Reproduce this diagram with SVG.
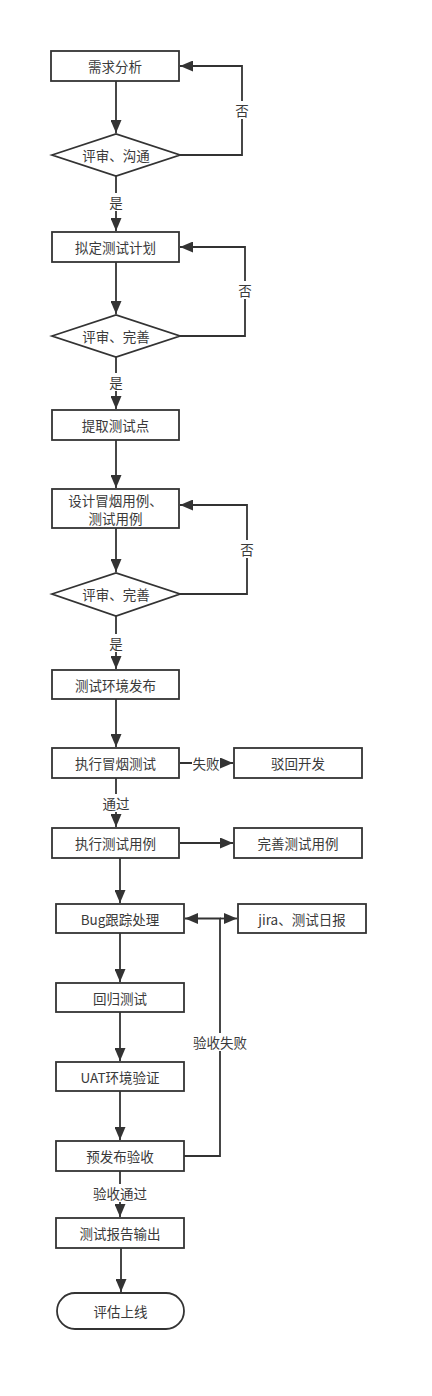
<svg xmlns="http://www.w3.org/2000/svg" width="432" height="1396" viewBox="0 0 432 1396">
<style>
.n{fill:#fff;stroke:#333;stroke-width:1.8}
.t{font-family:"Noto Sans CJK SC","Noto Sans",sans-serif;font-size:13.5px;fill:#3a3a3a;text-anchor:middle;dominant-baseline:central}
.e{fill:none;stroke:#333;stroke-width:1.8}
.lb{fill:#fff}
</style>
<defs>
<marker id="a" markerUnits="userSpaceOnUse" markerWidth="14" markerHeight="11" refX="13" refY="5.5" orient="auto">
<path d="M0,0 L13,5.5 L0,11 Z" fill="#333"/>
</marker>
</defs>
<rect width="432" height="1396" fill="#fff"/>
<g id="connectors">
<path class="e" d="M116,81 V133" marker-end="url(#a)"/>
<path class="e" d="M180,155 H242 V66 H180" marker-end="url(#a)"/>
<path class="e" d="M116,176 V231" marker-end="url(#a)"/>
<path class="e" d="M116,262 V314" marker-end="url(#a)"/>
<path class="e" d="M180,336 H245 V247 H180" marker-end="url(#a)"/>
<path class="e" d="M116,357 V409" marker-end="url(#a)"/>
<path class="e" d="M116,440 V488" marker-end="url(#a)"/>
<path class="e" d="M116,528 V572" marker-end="url(#a)"/>
<path class="e" d="M180,594 H247 V505 H180" marker-end="url(#a)"/>
<path class="e" d="M116,616 V669" marker-end="url(#a)"/>
<path class="e" d="M116,699 V747" marker-end="url(#a)"/>
<path class="e" d="M180,763 H233" marker-end="url(#a)"/>
<path class="e" d="M116,778 V827" marker-end="url(#a)"/>
<path class="e" d="M180,843 H233" marker-end="url(#a)"/>
<path class="e" d="M120,858 V903" marker-end="url(#a)"/>
<path class="e" d="M184,1156 H220 V918.5 H185" marker-end="url(#a)"/>
<path class="e" d="M220,918.5 H237" marker-end="url(#a)"/>
<path class="e" d="M120,933 V982" marker-end="url(#a)"/>
<path class="e" d="M120,1012 V1061" marker-end="url(#a)"/>
<path class="e" d="M120,1091 V1140" marker-end="url(#a)"/>
<path class="e" d="M120,1171 V1217" marker-end="url(#a)"/>
<path class="e" d="M121,1248 V1292" marker-end="url(#a)"/>
<rect class="lb" x="234" y="101" width="16" height="18"/>
<text class="t" x="242" y="110">否</text>
<rect class="lb" x="108" y="193" width="16" height="18"/>
<text class="t" x="116" y="202">是</text>
<rect class="lb" x="237" y="281" width="16" height="18"/>
<text class="t" x="245" y="290">否</text>
<rect class="lb" x="108" y="373" width="16" height="18"/>
<text class="t" x="116" y="382">是</text>
<rect class="lb" x="239" y="540" width="16" height="18"/>
<text class="t" x="247" y="549">否</text>
<rect class="lb" x="108" y="634" width="16" height="18"/>
<text class="t" x="116" y="643">是</text>
<rect class="lb" x="192" y="754" width="28" height="18"/>
<text class="t" x="206" y="763">失败</text>
<rect class="lb" x="102" y="794" width="28" height="18"/>
<text class="t" x="116" y="803">通过</text>
<rect class="lb" x="192" y="1033" width="56" height="18"/>
<text class="t" x="220" y="1042">验收失败</text>
<rect class="lb" x="92" y="1184" width="56" height="18"/>
<text class="t" x="120" y="1193">验收通过</text>
</g>
<g id="n1"><rect class="n" x="51" y="51" width="128" height="30"/><text class="t" x="115" y="66">需求分析</text></g>
<g id="d1"><path class="n" d="M52,155 L116,134 L180,155 L116,176 Z"/><text class="t" x="116" y="155">评审、沟通</text></g>
<g id="n2"><rect class="n" x="52" y="232" width="127" height="30"/><text class="t" x="115.5" y="247">拟定测试计划</text></g>
<g id="d2"><path class="n" d="M52,336 L116,315 L180,336 L116,357 Z"/><text class="t" x="116" y="336">评审、完善</text></g>
<g id="n3"><rect class="n" x="52" y="410" width="127" height="30"/><text class="t" x="115.5" y="425">提取测试点</text></g>
<g id="n4"><rect class="n" x="52" y="489" width="127" height="39"/><text class="t" x="115.5" y="500">设计冒烟用例、</text><text class="t" x="115.5" y="518">测试用例</text></g>
<g id="d3"><path class="n" d="M52,594 L116,573 L180,594 L116,616 Z"/><text class="t" x="116" y="594">评审、完善</text></g>
<g id="n5"><rect class="n" x="52" y="670" width="127" height="29"/><text class="t" x="115.5" y="684.5">测试环境发布</text></g>
<g id="n6"><rect class="n" x="52" y="748" width="127" height="30"/><text class="t" x="115.5" y="763">执行冒烟测试</text></g>
<g id="n7"><rect class="n" x="234" y="748" width="128" height="30"/><text class="t" x="298" y="763">驳回开发</text></g>
<g id="n8"><rect class="n" x="52" y="828" width="127" height="30"/><text class="t" x="115.5" y="843">执行测试用例</text></g>
<g id="n9"><rect class="n" x="234" y="828" width="128" height="30"/><text class="t" x="298" y="843">完善测试用例</text></g>
<g id="n10"><rect class="n" x="56" y="904" width="128" height="29"/><text class="t" x="120" y="918.5">Bug跟踪处理</text></g>
<g id="n11"><rect class="n" x="238" y="904" width="128" height="29"/><text class="t" x="302" y="918.5">jira、测试日报</text></g>
<g id="n12"><rect class="n" x="56" y="983" width="128" height="29"/><text class="t" x="120" y="997.5">回归测试</text></g>
<g id="n13"><rect class="n" x="56" y="1062" width="128" height="29"/><text class="t" x="120" y="1076.5">UAT环境验证</text></g>
<g id="n14"><rect class="n" x="56" y="1141" width="128" height="30"/><text class="t" x="120" y="1156">预发布验收</text></g>
<g id="n15"><rect class="n" x="56" y="1218" width="128" height="30"/><text class="t" x="120" y="1233">测试报告输出</text></g>
<g id="n16"><rect class="n" x="57" y="1293" width="127" height="36" rx="18" ry="18"/><text class="t" x="120.5" y="1311">评估上线</text></g>
</svg>
